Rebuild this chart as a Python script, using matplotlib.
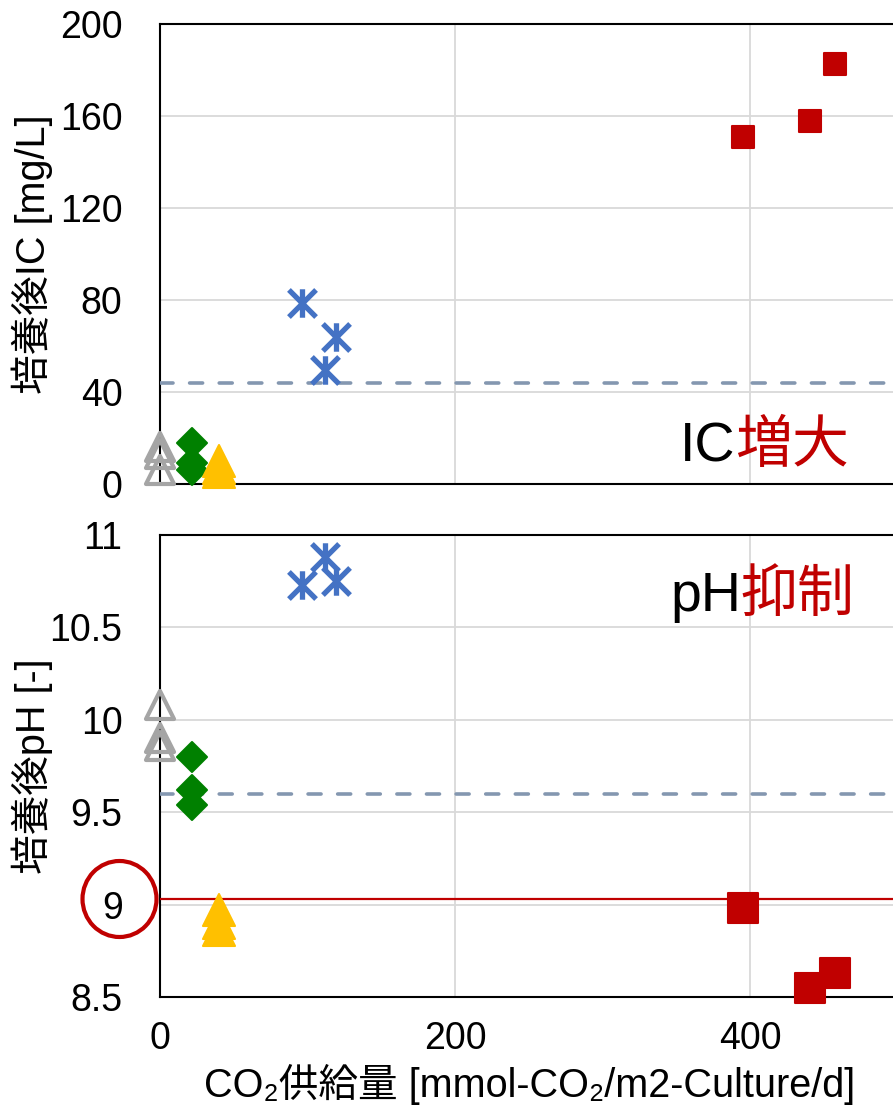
import matplotlib
matplotlib.use("Agg")
import matplotlib.pyplot as plt
from matplotlib.markers import MarkerStyle
from matplotlib.path import Path
from matplotlib.patches import Ellipse

plt.rcParams['font.family'] = ['Liberation Sans', 'Noto Sans CJK JP', 'DejaVu Sans']

# CO2 supply [mmol-CO2/m2-Culture/d] per group
x_gray = [0, 0, 0]
x_green = [22, 22, 22]
x_yellow = [40, 40, 40]
x_blue = [96, 112, 119]
x_red = [395, 441, 458]

# IC after culture [mg/L]
ic_gray = [16, 13, 6]
ic_green = [18, 9, 6]
ic_yellow = [10, 7, 5]
ic_blue = [78.7, 49.6, 63.9]
ic_red = [151, 158, 182.6]
ic_ref = 44

# pH after culture
ph_gray = [10.08, 9.90, 9.86]
ph_green = [9.80, 9.62, 9.54]
ph_yellow = [8.97, 8.90, 8.86]
ph_blue = [10.73, 10.88, 10.75]
ph_red = [8.98, 8.55, 8.63]
ph_ref = 9.60
ph_limit = 9.03

RED = '#c00000'
GRAY = '#a5a5a5'
GREEN = '#008000'
YELLOW = '#ffc000'
BLUE = '#4472c4'
DASH = '#8497b0'

star = Path([(-1, -1), (1, 1), (-1, 1), (1, -1), (0, -1.05), (0, 1.05)],
            [Path.MOVETO, Path.LINETO, Path.MOVETO, Path.LINETO, Path.MOVETO, Path.LINETO])

W, H = 893, 1111
fig = plt.figure(figsize=(W / 100, H / 100), dpi=100)
ax1 = fig.add_axes([160 / W, 1 - 484 / H, 1 - 160 / W, 460 / H])
ax2 = fig.add_axes([160 / W, 1 - 997 / H, 1 - 160 / W, 462 / H])


def draw(ax, yg, ygr, yy, yb, yr, sq):
    kw = dict(linestyle='none', clip_on=False, zorder=4)
    ax.plot(x_gray, yg, marker=MarkerStyle('^', joinstyle='round'), ms=19.5,
            mfc='none', mec=GRAY, mew=3, **kw)
    ax.plot(x_green, ygr, marker=MarkerStyle('D', joinstyle='round'), ms=15.5,
            mfc=GREEN, mec=GREEN, mew=1.5, **kw)
    ax.plot(x_yellow, yy, marker=MarkerStyle('^', joinstyle='round'), ms=22.5,
            mfc=YELLOW, mec=YELLOW, mew=1.5, **kw)
    ax.plot(x_blue, yb, marker=star, ms=20.5, mfc=BLUE, mec=BLUE, mew=3.8, **kw)
    ax.plot(x_red, yr, marker=MarkerStyle('s', joinstyle='round'), ms=sq,
            mfc=RED, mec=RED, mew=1.5, **kw)


draw(ax1, ic_gray, ic_green, ic_yellow, ic_blue, ic_red, 16)
draw(ax2, ph_gray, ph_green, ph_yellow, ph_blue, ph_red, 22)

ax1.axhline(ic_ref, color=DASH, lw=2.6, ls=(0, (3.6, 4.6)), dash_capstyle='round', zorder=3)
ax2.axhline(ph_ref, color=DASH, lw=2.6, ls=(0, (3.6, 4.6)), dash_capstyle='round', zorder=3)
ax2.axhline(ph_limit, color=RED, lw=1.6, zorder=3)

for ax in (ax1, ax2):
    ax.set_xlim(0, 497)
    ax.set_xticks([0, 200, 400])
    ax.grid(True, color='#d9d9d9', lw=1.3)
    ax.set_axisbelow(True)
    ax.spines['right'].set_visible(False)
    for s in ('left', 'top', 'bottom'):
        ax.spines[s].set_linewidth(1.5)
        ax.spines[s].set_color('black')
    ax.tick_params(length=0, labelsize=27)
    ax.tick_params(axis='y', pad=27)
    ax.tick_params(axis='x', pad=17)

ax1.set_ylim(0, 200)
ax1.set_yticks([0, 40, 80, 120, 160, 200])
ax1.tick_params(axis='x', labelbottom=False)

ax2.set_ylim(8.5, 11)
ax2.set_yticks([8.5, 9, 9.5, 10, 10.5, 11])
ax2.set_yticklabels(['8.5', '9', '9.5', '10', '10.5', '11'])

fig.text(32 / W, 1 - 254 / H, '培養後IC [mg/L]', rotation=90, ha='center', va='center', fontsize=28.5)
fig.text(32 / W, 1 - 766 / H, '培養後pH [-]', rotation=90, ha='center', va='center', fontsize=28.5)
fig.text(530 / W, 1 - 1097 / H, 'CO₂供給量 [mmol-CO₂/m2-Culture/d]', ha='center', va='baseline', fontsize=28.5)

fig.add_artist(Ellipse((119.5 / W, 1 - 899 / H), 74 / W, 76 / H, transform=fig.transFigure,
                       fill=False, ec=RED, lw=3))

# annotations: black latin part + red japanese part
t1 = fig.text(680 / W, 1 - 462 / H, 'IC', fontsize=40, va='baseline', ha='left')
t2 = fig.text(670 / W, 1 - 611 / H, 'pH', fontsize=40, va='baseline', ha='left')
fig.canvas.draw()
r = fig.canvas.get_renderer()
for t, s in ((t1, '増大'), (t2, '抑制')):
    bb = t.get_window_extent(r)
    x0, y0 = t.get_position()
    fig.text(bb.x1 / W, y0, s, fontsize=41, va='baseline', ha='left', color=RED)

fig.savefig('out.png', dpi=100)
